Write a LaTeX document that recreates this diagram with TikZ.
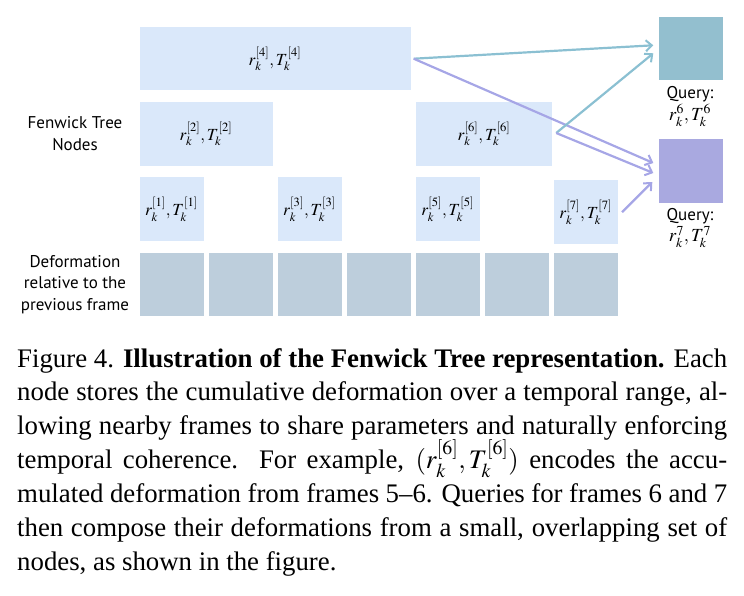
\documentclass[tikz,border=0pt]{standalone}
\usepackage{mathptmx}
\usepackage{fontspec}
\setmainfont{Liberation Serif}
\newfontfamily\labfont{PT Sans}
\usetikzlibrary{arrows.meta,calc}
\definecolor{nodefill}{HTML}{DAE8FA}
\definecolor{basefill}{HTML}{BDCEDC}
\definecolor{tealq}{HTML}{93BFCF}
\definecolor{purpq}{HTML}{A9A9E0}
\definecolor{tealarr}{HTML}{8BC0D2}
\definecolor{purparr}{HTML}{A6A6E6}
\tikzset{
  fnode/.style={fill=nodefill, inner sep=0pt, minimum height=63.5pt, font=\fontsize{17}{20}\selectfont},
  bnode/.style={fill=basefill, inner sep=0pt, minimum width=64pt, minimum height=63.3pt},
  qnode/.style={inner sep=0pt, minimum width=64pt, minimum height=63.4pt},
  lab/.style={font=\labfont\fontsize{17}{21.5}\selectfont, align=center, inner sep=0pt},
  arr/.style={line width=2.2pt, -{Straight Barb[length=6pt,width=11pt,line width=2pt]}},
  capline/.style={anchor=base west, inner sep=0pt, font=\fontsize{26.8}{33}\selectfont}
}
\begin{document}
\begin{tikzpicture}[x=1pt,y=-1pt]
\useasboundingbox (0,0) rectangle (744,595);
% Fenwick nodes
\node[fnode, minimum width=271pt] (n4) at (275,58.7) {$r_k^{[4]}, T_k^{[4]}$};
\node[fnode, minimum width=133pt] (n2) at (206,134) {$r_k^{[2]}, T_k^{[2]}$};
\node[fnode, minimum width=136pt] (n6) at (484,134) {$r_k^{[6]}, T_k^{[6]}$};
\node[fnode, minimum width=64pt] (n1) at (171.5,209.2) {$r_k^{[1]}, T_k^{[1]}$};
\node[fnode, minimum width=64pt] (n3) at (309.6,209.2) {$r_k^{[3]}, T_k^{[3]}$};
\node[fnode, minimum width=64pt] (n5) at (447.7,209.2) {$r_k^{[5]}, T_k^{[5]}$};
\node[fnode, minimum width=64pt] (n7) at (585.8,212.2) {$r_k^{[7]}, T_k^{[7]}$};
% base frames
\foreach \i [evaluate=\i as \cx using 171.5+69.05*(\i-1)] in {1,...,7}
  \node[bnode] (b\i) at (\cx,284.3) {};
% query boxes
\node[qnode, fill=tealq] (q6) at (690.5,48.3) {};
\node[qnode, fill=purpq] (q7) at (690.5,171) {};
\node[lab] (q6l) at (690,106.5) {Query:\\ {\fontsize{18.5}{21}\selectfont$r_k^6, T_k^6$}};
\node[lab] (q7l) at (690,228) {Query:\\ {\fontsize{18.5}{21}\selectfont$r_k^7, T_k^7$}};
% left labels
\node[lab] (ftl) at (75,133.5) {Fenwick Tree\\ Nodes};
\node[lab] (dfl) at (75,284.5) {Deformation\\ relative to the\\ previous frame};
% arrows
\draw[arr, tealarr] ($(n4.east)+(3,0)$) -- ($(q6.west)+(-5,-3)$);
\draw[arr, purparr] ($(n4.east)+(3,0)$) -- ($(q7.west)+(-5,-8)$);
\draw[arr, tealarr] ($(n6.east)+(4,-1)$) -- ($(q6.west)+(-5,5)$);
\draw[arr, purparr] ($(n6.east)+(4,-1)$) -- ($(q7.west)+(-5,2)$);
\draw[arr, purparr] ($(n7.east)+(4,0)$) -- ($(q7.west)+(-6,11)$);
% caption
\node[capline] (c1) at (17,367) {\makebox[710pt][s]{Figure 4. \textbf{Illustration of the Fenwick Tree representation.} Each}};
\node[capline] (c2) at (17,400.9) {\makebox[710pt][s]{node stores the cumulative deformation over a temporal range, al-}};
\node[capline] (c3) at (17,434.8) {\makebox[710pt][s]{lowing nearby frames to share parameters and naturally enforcing}};
\node[capline] (c4) at (17,468.7) {\makebox[710pt][s]{temporal coherence.\ \ For example, $(r_k^{[6]}, T_k^{[6]})$ encodes the accu-}};
\node[capline] (c5) at (17,502.6) {\makebox[710pt][s]{mulated deformation from frames 5--6. Queries for frames 6 and 7}};
\node[capline] (c6) at (17,536.5) {\makebox[710pt][s]{then compose their deformations from a small, overlapping set of}};
\node[capline] (c7) at (17,570.4) {nodes, as shown in the figure.};
\end{tikzpicture}
\end{document}
